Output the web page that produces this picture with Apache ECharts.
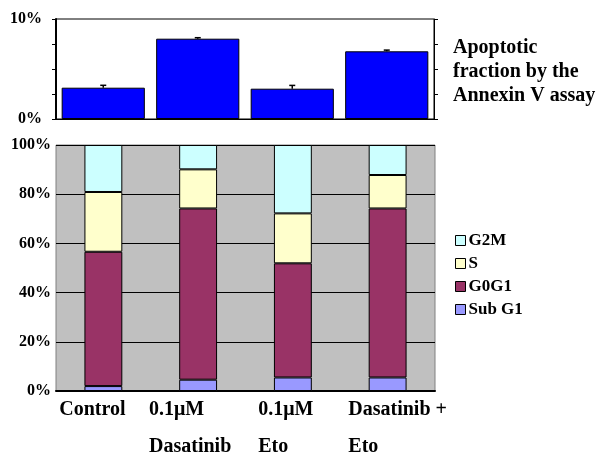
<!DOCTYPE html>
<html><head><meta charset="utf-8">
<script src="https://cdn.jsdelivr.net/npm/echarts@6/dist/echarts.min.js"></script>
<style>html,body{margin:0;padding:0;background:#fff}#c{width:600px;height:468px}</style>
</head><body><div id="c"></div>
<script>
const categories = ['Control', '0.1μM\nDasatinib', '0.1μM\nEto', 'Dasatinib +\nEto'];
const apoptosis = [3.13, 8.03, 3.03, 6.77];
const apoptosisErr = [0.24, 0.10, 0.33, 0.12];
const subG1 = [2.0, 4.6, 5.5, 5.5];
const g0g1 = [54.6, 69.6, 46.4, 68.7];
const sPhase = [24.3, 15.9, 20.3, 13.6];
const g2m = [19.1, 9.9, 27.8, 12.2];
const topTicks = ['0%', '10%'];
const bottomTicks = ['0%', '20%', '40%', '60%', '80%', '100%'];

const serif = 'Liberation Serif';
const chart = echarts.init(document.getElementById('c'));
const labelPad = [[0, 22, 0, 0], [0, 16, 0, 0], [0, 14, 0, 0], [0, 0, 0, 20]];
const rich = {};
labelPad.forEach((p, i) => {
  rich['c' + i] = {fontFamily: serif, fontWeight: 'bold', fontSize: 20, color: '#000', align: 'left', lineHeight: 37, padding: p};
});
const seriesStyle = (c) => ({color: c, borderColor: '#000', borderWidth: 1});

chart.setOption({
  animation: false,
  backgroundColor: '#fff',
  title: {
    text: 'Apoptotic\nfraction by the\nAnnexin V assay',
    left: 448, top: 31,
    textStyle: {fontFamily: serif, fontWeight: 'bold', fontSize: 20, lineHeight: 24, color: '#000'}
  },
  legend: {
    orient: 'vertical', left: 450, top: 227,
    itemWidth: 10, itemHeight: 10, itemGap: 6,
    data: ['G2M', 'S', 'G0G1', 'Sub G1'],
    icon: 'rect',
    itemStyle: {borderColor: '#000', borderWidth: 1},
    textStyle: {fontFamily: serif, fontWeight: 'bold', fontSize: 17, color: '#000', padding: [0, 0, 0, -2]}
  },
  grid: [
    {left: 56, right: 166, top: 19, height: 100, show: true, borderColor: '#000', borderWidth: 1, backgroundColor: '#fff'},
    {left: 56, right: 165, top: 145, height: 246, show: true, borderColor: '#808080', borderWidth: 1, backgroundColor: '#c0c0c0'}
  ],
  xAxis: [
    {gridIndex: 0, type: 'category', data: categories, position: 'top',
     axisLine: {lineStyle: {color: '#000', width: 1}},
     axisTick: {alignWithLabel: true, length: 3, lineStyle: {color: '#000'}},
     axisLabel: {show: false}},
    {gridIndex: 1, type: 'category', data: categories,
     axisLine: {lineStyle: {color: '#000', width: 2}},
     axisTick: {inside: true, length: 5, lineStyle: {color: '#000'}},
     axisLabel: {
       margin: 0, interval: 0,
       formatter: (v, i) => v.split('\n').map(l => '{c' + i + '|' + l + '}').join('\n'),
       rich: rich
     }}
  ],
  yAxis: [
    {gridIndex: 0, type: 'value', min: 0, max: 10, interval: 2.5,
     axisLine: {show: true, lineStyle: {color: '#000', width: 2}},
     axisTick: {show: true, length: 4, lineStyle: {color: '#000'}},
     splitLine: {show: false},
     axisLabel: {margin: 14, fontFamily: serif, fontWeight: 'bold', fontSize: 16, color: '#000',
       formatter: v => v === 0 ? topTicks[0] : (v === 10 ? topTicks[1] : '')}},
    {gridIndex: 0, type: 'value', min: 0, max: 10, interval: 2.5, position: 'right',
     axisLine: {show: true, lineStyle: {color: '#000', width: 1}},
     axisTick: {show: true, length: 4, lineStyle: {color: '#000'}},
     splitLine: {show: false}, axisLabel: {show: false}},
    {gridIndex: 1, type: 'value', min: 0, max: 100, interval: 20,
     axisLine: {show: false},
     axisTick: {show: false},
     splitLine: {show: true, lineStyle: {color: '#000', width: 1}},
     axisLabel: {margin: 5, fontFamily: serif, fontWeight: 'bold', fontSize: 16, color: '#000',
       formatter: v => bottomTicks[Math.round(v / 20)]}}
  ],
  series: [
    {name: 'Apoptosis', type: 'bar', xAxisIndex: 0, yAxisIndex: 0, data: apoptosis,
     barCategoryGap: '12%', itemStyle: seriesStyle('#0000ff'), z: 3},
    {type: 'custom', xAxisIndex: 0, yAxisIndex: 0,
     data: apoptosis.map((v, i) => [i, v, v + apoptosisErr[i]]), z: 4,
     renderItem: (params, api) => {
       const p0 = api.coord([api.value(0), api.value(1)]);
       const p1 = api.coord([api.value(0), api.value(2)]);
       const style = {stroke: '#000', lineWidth: 1.5};
       return {type: 'group', children: [
         {type: 'line', shape: {x1: p0[0], y1: p0[1], x2: p1[0], y2: p1[1]}, style},
         {type: 'line', shape: {x1: p1[0] - 3, y1: p1[1], x2: p1[0] + 3, y2: p1[1]}, style}
       ]};
     }},
    {name: 'Sub G1', type: 'bar', stack: 'cc', xAxisIndex: 1, yAxisIndex: 2, data: subG1, barWidth: '40%', itemStyle: seriesStyle('#9999ff')},
    {name: 'G0G1', type: 'bar', stack: 'cc', xAxisIndex: 1, yAxisIndex: 2, data: g0g1, itemStyle: seriesStyle('#993366')},
    {name: 'S', type: 'bar', stack: 'cc', xAxisIndex: 1, yAxisIndex: 2, data: sPhase, itemStyle: seriesStyle('#ffffcc')},
    {name: 'G2M', type: 'bar', stack: 'cc', xAxisIndex: 1, yAxisIndex: 2, data: g2m, itemStyle: seriesStyle('#ccffff')}
  ]
});
</script></body></html>
